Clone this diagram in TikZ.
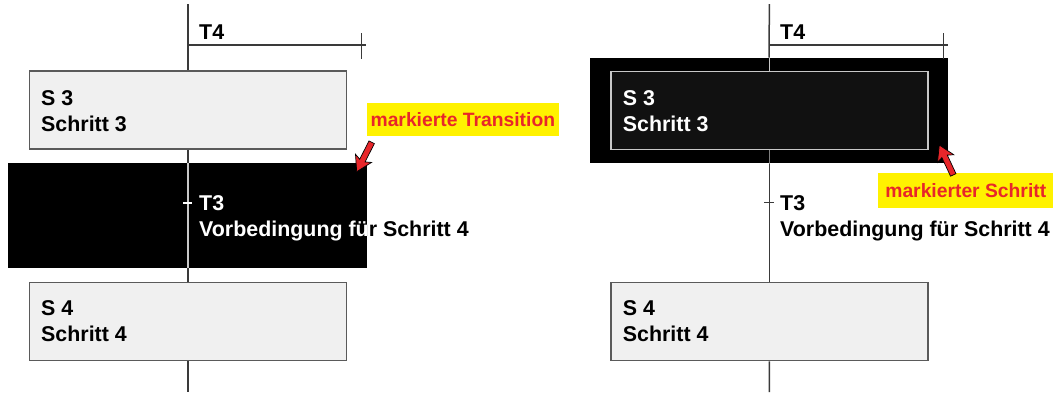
\documentclass[tikz,border=0pt]{standalone}
\usepackage{fontspec}
\setmainfont{Liberation Sans}
\definecolor{boxfill}{HTML}{F0F0F0}
\definecolor{boxline}{HTML}{5A5A5A}
\definecolor{wirec}{HTML}{3A3A3A}
\definecolor{darkfill}{HTML}{111111}
\definecolor{lightline}{HTML}{C8C8C8}
\definecolor{markred}{HTML}{E8262A}
\definecolor{markyellow}{HTML}{FFF200}
\begin{document}
\begin{tikzpicture}[x=1bp,y=-1bp,
  wire/.style={draw=wirec, line width=1.5bp},
  stepbox/.style={draw=boxline, fill=boxfill, line width=1.5bp,
    minimum width=317bp, minimum height=78bp, inner sep=0},
  blackbox/.style={fill=black, draw=none, inner sep=0},
  lbl/.style={font=\fontsize{21.4bp}{25bp}\selectfont\bfseries, inner sep=0, anchor=base west},
  note/.style={fill=markyellow, text=markred, inner sep=0,
    font=\fontsize{19.3bp}{22bp}\selectfont\bfseries},
  cursor/.pic={\filldraw[fill=markred, draw=black, line width=0.7bp]
    (0,0) -- (15,9) -- (12.5,3) -- (33,3) -- (33,-3) -- (12.5,-3) -- (15,-9) -- cycle;}]
\useasboundingbox (0,0) rectangle (1057,392);

% ---------- left chain: transition T3 selected ----------
\coordinate (Ltop) at (188,4);
\coordinate (Lbot) at (188,392);
\coordinate (T4Lend) at (365.7,45);
\coordinate (T4Ltu) at (361.7,33);
\coordinate (T4Ltd) at (361.7,59);
\node[stepbox] (S3L) at (188,110) {};
\node[stepbox] (S4L) at (188,321.5) {};
\draw[wire] (Ltop) -- (S3L.north);
\draw[wire] (S3L.south) -- (S4L.north);
\draw[wire] (S4L.south) -- (Lbot);
\draw[wire] (Ltop |- T4Lend) -- (T4Lend);
\draw[wire] (T4Ltu) -- (T4Ltd);
\node[lbl] (T4L) at (199,39) {T4};
\node[lbl] (S3La) at (41,105.3) {S 3};
\node[lbl] (S3Lb) at (41,131.7) {Schritt 3};
\node[lbl] (S4La) at (41,315.3) {S 4};
\node[lbl] (S4Lb) at (41,341.7) {Schritt 4};
\node[lbl] (T3L) at (199,210) {T3};
\node[lbl] (V4L) at (199,236.7) {Vorbedingung für Schritt 4};
% highlighted transition: inverted colours inside the frame
\node[blackbox, minimum width=358.7bp, minimum height=105bp] (TL) at (187.35,215.5) {};
\draw[draw=lightline, line width=1.5bp] (S3L.south |- TL.north) -- (S3L.south |- TL.south);
\coordinate (T3Ltk) at (183,203);
\coordinate (T3Ltk2) at (192,203);
\draw[draw=white, line width=1.5bp] (T3Ltk) -- (T3Ltk2);
\begin{scope}
  \clip (TL.north west) rectangle (TL.south east);
  \node[lbl, text=white] (T3Lw) at (199,210) {T3};
  \node[lbl, text=white] (V4Lw) at (199,236.7) {Vorbedingung für Schritt 4};
\end{scope}
\node[note, minimum width=192.3bp, minimum height=33bp] (NL) at (462.85,119.5) {markierte Transition};
\pic[rotate=63] at (356.7,171.7) {cursor};

% ---------- right chain: step S3 selected ----------
\coordinate (Rtop) at (769.3,4);
\coordinate (Rbot) at (769.3,392);
\coordinate (T4Rend) at (947.7,45);
\coordinate (T4Rtu) at (943.3,33);
\coordinate (T4Rtd) at (943.3,59);
\node[blackbox, minimum width=358.3bp, minimum height=105.6bp] (SelR) at (769.15,110.5) {};
\node[stepbox, fill=darkfill, draw=lightline, minimum height=78.4bp] (S3R) at (769.35,110.5) {};
\node[stepbox] (S4R) at (769.35,321.5) {};
\draw[wire] (Rtop) -- (SelR.north);
\draw[draw=lightline, line width=1.5bp] (S3R.north |- SelR.north) -- (S3R.north);
\draw[draw=gray, line width=1.5bp] (S3R.south) -- (S3R.south |- SelR.south);
\draw[wire] (S3R.south |- SelR.south) -- (S4R.north);
\draw[wire] (S4R.south) -- (Rbot);
\draw[wire] (Rtop |- T4Rend) -- (T4Rend);
\draw[wire] (T4Rtu) -- (T4Rtd);
\coordinate (T3Rtk) at (764,202.7);
\coordinate (T3Rtk2) at (774,202.7);
\draw[wire] (T3Rtk) -- (T3Rtk2);
\node[lbl] (T4R) at (780,39) {T4};
\node[lbl, text=white] (S3Ra) at (622.7,105) {S 3};
\node[lbl, text=white] (S3Rb) at (622.7,131) {Schritt 3};
\node[lbl] (T3R) at (780,210) {T3};
\node[lbl] (V4R) at (780,236.7) {Vorbedingung für Schritt 4};
\node[lbl] (S4Ra) at (622.7,315) {S 4};
\node[lbl] (S4Rb) at (622.7,341.7) {Schritt 4};
\node[note, minimum width=175bp, minimum height=35bp] (NR) at (965.8,190.8) {markierter Schritt};
\pic[rotate=-65] at (939.3,145) {cursor};
\end{tikzpicture}
\end{document}
